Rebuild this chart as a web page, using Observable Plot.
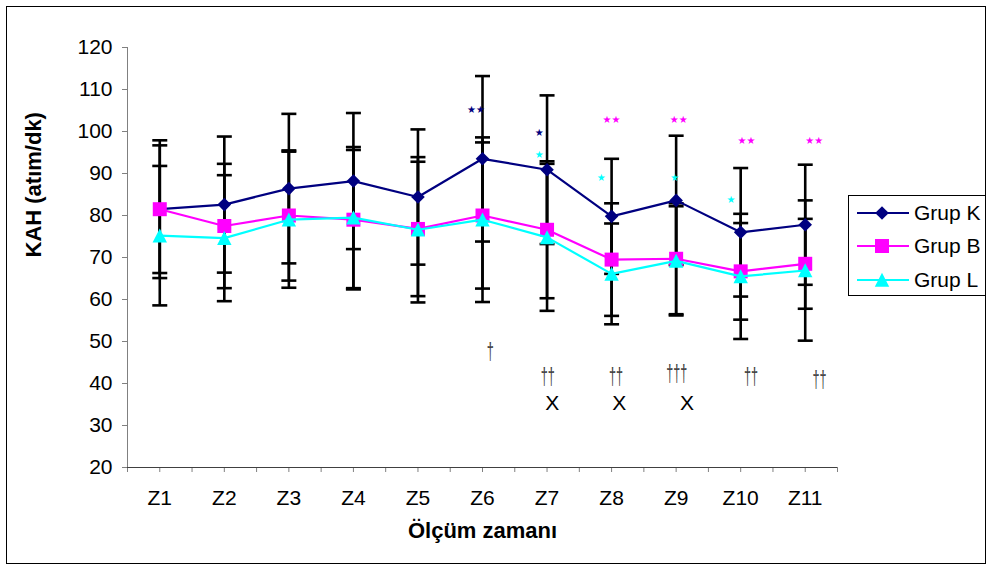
<!DOCTYPE html>
<html><head><meta charset="utf-8">
<script src="https://cdn.jsdelivr.net/npm/d3@7"></script>
<script src="https://cdn.jsdelivr.net/npm/@observablehq/plot@0.6"></script>
<style>
body{margin:0;background:#fff;}
#wrap{position:relative;width:991px;height:568px;overflow:hidden;background:#fff;}
#frame{position:absolute;left:6px;top:6px;width:978px;height:556px;border:1px solid #000;pointer-events:none;}
#legend{position:absolute;left:848px;top:195px;width:136px;height:99px;border:1px solid #000;background:#fff;}
</style></head><body>
<div id="wrap"><div id="chart"></div><div id="frame"></div><div id="legend"></div></div>
<script>
// ---- data ----
const categories = ["Z1","Z2","Z3","Z4","Z5","Z6","Z7","Z8","Z9","Z10","Z11"];
const seriesNames = ["Grup K","Grup B","Grup L"];
const meanK = [81.5, 82.6, 86.4, 88.2, 84.4, 93.5, 90.9, 79.8, 83.6, 76.0, 77.8];
const meanB = [81.5, 77.5, 80.0, 79.0, 76.8, 80.0, 76.6, 69.5, 69.7, 66.7, 68.5];
const meanL = [75.2, 74.6, 79.0, 79.5, 76.6, 79.0, 74.8, 66.1, 69.2, 65.5, 66.9];
const sdK = [16.4, 16.2, 17.8, 16.2, 16.1, 19.7, 17.7, 13.7, 15.4, 15.3, 14.3];
const sdB = [15.2, 14.8, 15.5, 16.6, 16.0, 17.4, 16.3, 13.4, 13.2, 11.5, 10.7];
const sdL = [16.6, 15.0, 16.2, 16.8, 17.3, 19.6, 17.5, 12.0, 13.0, 14.9, 16.7];
const yTicks = [20, 30, 40, 50, 60, 70, 80, 90, 100, 110, 120];
const yTitle = "KAH (atım/dk)";
const xTitle = "Ölçüm zamanı";
// significance notes (x in category units, y in KAH units)
const starNotes = [
  {x: 5.90, y: 105.2, text: "★★", group: "Grup K"},
  {x: 6.88, y: 99.7, text: "★", group: "Grup K"},
  {x: 6.88, y: 94.45, text: "★", group: "Grup L"},
  {x: 8.00, y: 102.9, text: "★★", group: "Grup B"},
  {x: 7.84, y: 89.0, text: "★", group: "Grup L"},
  {x: 9.04, y: 102.9, text: "★★", group: "Grup B"},
  {x: 8.98, y: 89.0, text: "★", group: "Grup L"},
  {x: 10.09, y: 97.8, text: "★★", group: "Grup B"},
  {x: 9.85, y: 83.7, text: "★", group: "Grup L"},
  {x: 11.14, y: 97.8, text: "★★", group: "Grup B"}
];
const daggerNotes = [
  {x: 6.12, y: 47.4, text: "†"},
  {x: 7.01, y: 41.5, text: "††"},
  {x: 8.07, y: 41.5, text: "††"},
  {x: 9.01, y: 42.0, text: "†††"},
  {x: 10.16, y: 41.5, text: "††"},
  {x: 11.22, y: 40.6, text: "††"}
];
const crossNotes = [
  {x: 7.08, y: 35.4, text: "X"},
  {x: 8.12, y: 35.4, text: "X"},
  {x: 9.17, y: 35.4, text: "X"}
];

// ---- symbols ----
const rad = size => Math.sqrt(size / Math.PI);
const diamondSym = {draw(c, s){const r = rad(s); c.moveTo(0,-r); c.lineTo(r,0); c.lineTo(0,r); c.lineTo(-r,0); c.closePath();}};
const squareSym = {draw(c, s){const r = rad(s); c.moveTo(-r,-r); c.lineTo(r,-r); c.lineTo(r,r); c.lineTo(-r,r); c.closePath();}};
const triSym = {draw(c, s){const r = rad(s); c.moveTo(0,-r); c.lineTo(r,r*0.95); c.lineTo(-r,r*0.95); c.closePath();}};
const capSym = {draw(c, s){const r = rad(s); c.moveTo(-r,0); c.lineTo(r,0);}};

const styles = {
  "Grup K": {color: "#000080", symbol: diamondSym, r: 6.8},
  "Grup B": {color: "#FF00FF", symbol: squareSym, r: 7},
  "Grup L": {color: "#00FFFF", symbol: triSym, r: 7.2}
};
const means = {"Grup K": meanK, "Grup B": meanB, "Grup L": meanL};
const sds = {"Grup K": sdK, "Grup B": sdB, "Grup L": sdL};

const rows = seriesNames.flatMap(g => categories.map((c, i) => ({
  group: g, cat: c, xi: i + 1, mean: means[g][i],
  lo: means[g][i] - sds[g][i], hi: means[g][i] + sds[g][i]
})));
const caps = rows.flatMap(d => [{xi: d.xi, v: d.lo}, {xi: d.xi, v: d.hi}]);
const xTickPos = d3.range(1, 2 * categories.length + 2).map(i => i / 2);

const font = "'Liberation Sans', Arial, Helvetica, sans-serif";

const marks = [
  Plot.ruleX([0.5], {stroke: "#808080", strokeWidth: 1}),
  Plot.axisY({ticks: yTicks, tickSize: 5, tickPadding: 10, stroke: "#808080", fill: "#000", fontSize: 21, label: null}),
  Plot.axisX({ticks: xTickPos, tickSize: 5, tickPadding: 18, stroke: "#808080", fill: "#000", fontSize: 21, label: null,
    tickFormat: d => Number.isInteger(d) ? categories[d - 1] : ""}),
  Plot.ruleY([20], {stroke: "#404040", strokeWidth: 1}),
  Plot.ruleX(rows, {x: "xi", y1: "lo", y2: "hi", stroke: "#000", strokeWidth: 2.6}),
  Plot.dot(caps, {x: "xi", y: "v", symbol: capSym, r: 7.5, stroke: "#000", strokeWidth: 2.6, fill: "none"})
];
for (const g of seriesNames) {
  const st = styles[g];
  const data = rows.filter(d => d.group === g);
  marks.push(Plot.line(data, {x: "xi", y: "mean", stroke: st.color, strokeWidth: 2.2}));
  marks.push(Plot.dot(data, {x: "xi", y: "mean", symbol: st.symbol, r: st.r, fill: st.color, stroke: "none"}));
}
for (const g of seriesNames) {
  marks.push(Plot.text(starNotes.filter(d => d.group === g), {x: "x", y: "y", text: "text", fill: styles[g].color,
    fontSize: 10, fontFamily: "'DejaVu Sans', sans-serif"}));
}
marks.push(Plot.text(daggerNotes, {x: "x", y: "y", text: "text", fill: "#404040", fontSize: 23}));
marks.push(Plot.text(crossNotes, {x: "x", y: "y", text: "text", fill: "#000", fontSize: 21}));
marks.push(Plot.text([xTitle], {text: d => d, frameAnchor: "bottom", dy: 70, fontSize: 22, fontWeight: "bold", fill: "#000"}));
marks.push(Plot.text([yTitle], {text: d => d, frameAnchor: "left", dx: -94, rotate: -90, fontSize: 22, fontWeight: "bold", fill: "#000"}));

const chart = Plot.plot({
  width: 991, height: 568,
  marginLeft: 127, marginRight: 154, marginTop: 47, marginBottom: 101,
  style: {fontFamily: font, fontSize: "21px", background: "#fff", color: "#000"},
  x: {domain: [0.5, categories.length + 0.5]},
  y: {domain: [20, 120]},
  marks
});
// narrow the dagger glyphs horizontally (about their own anchor point)
d3.select(chart).selectAll("text").filter(function () { return /^†+$/.test(this.textContent); }).each(function () {
  const t = this.getAttribute("transform");
  if (t) {
    this.setAttribute("transform", t + " scale(0.55,1)");
  } else {
    const x = +this.getAttribute("x") || 0, y = +this.getAttribute("y") || 0;
    this.setAttribute("transform", `translate(${x},${y}) scale(0.55,1) translate(${-x},${-y})`);
  }
});
document.getElementById("chart").append(chart);

// ---- legend ----
const lg = d3.select("#legend").append("svg").attr("width", 136).attr("height", 99)
  .style("font-family", font).style("font-size", "21px");
const rowsY = [17, 50, 84];
seriesNames.forEach((g, i) => {
  const st = styles[g];
  const y = rowsY[i];
  lg.append("line").attr("x1", 8).attr("x2", 60).attr("y1", y).attr("y2", y)
    .attr("stroke", st.color).attr("stroke-width", 2.2);
  lg.append("path").attr("transform", `translate(33,${y})`)
    .attr("d", d3.symbol(st.symbol, st.r * st.r * Math.PI)()).attr("fill", st.color);
  lg.append("text").attr("x", 65).attr("y", y).attr("dy", "0.35em").attr("fill", "#000").text(g);
});
</script>
</body></html>
